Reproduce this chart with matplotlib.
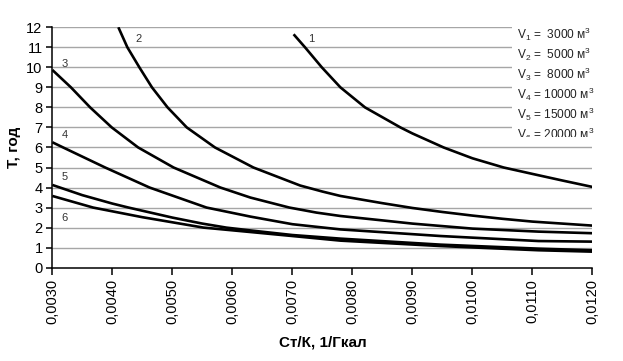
import matplotlib
matplotlib.use("Agg")
import matplotlib.pyplot as plt
from matplotlib.patches import Rectangle
from matplotlib.ticker import FuncFormatter

plt.rcParams["font.family"] = ["Liberation Sans", "DejaVu Sans"]

# curves: x = Ст/К, 1/Гкал ; T = payback, years
x1 = [0.00702, 0.00721, 0.00749, 0.0078, 0.00821, 0.0088, 0.0090, 0.00952,
      0.0100, 0.01052, 0.0110, 0.0115, 0.0120]
t1 = [11.65, 11.0, 10.0, 9.0, 8.0, 7.0, 6.7, 6.0, 5.46, 5.0, 4.68, 4.35, 4.03]

x2 = [0.0041, 0.00425, 0.00445, 0.00466, 0.00492, 0.00524, 0.00571, 0.00635,
      0.00713, 0.0075, 0.0078, 0.0085, 0.0090, 0.0095, 0.0100, 0.0105,
      0.0110, 0.0115, 0.0120]
t2 = [12.0, 11.0, 10.0, 9.0, 8.0, 7.0, 6.0, 5.0, 4.1, 3.8, 3.58, 3.22,
      2.98, 2.78, 2.6, 2.44, 2.3, 2.2, 2.1]

x3 = [0.0030, 0.00331, 0.00363, 0.00399, 0.00443, 0.00502, 0.0058, 0.0063,
      0.00695, 0.0074, 0.0078, 0.0085, 0.0090, 0.0100, 0.0111, 0.0120]
t3 = [9.87, 9.0, 8.0, 7.0, 6.0, 5.0, 4.0, 3.5, 3.0, 2.75, 2.58, 2.36, 2.2,
      1.95, 1.8, 1.72]

x4 = [0.0030, 0.00318, 0.00388, 0.00462, 0.00557, 0.0063, 0.0070, 0.0078,
      0.00947, 0.0111, 0.0120]
t4 = [6.26, 6.0, 5.0, 4.0, 3.0, 2.55, 2.17, 1.91, 1.58, 1.33, 1.30]

x5 = [0.0030, 0.0035, 0.0040, 0.00427, 0.0050, 0.0055, 0.0059, 0.0063,
      0.0070, 0.0078, 0.00947, 0.0111, 0.0120]
t5 = [4.13, 3.62, 3.2, 3.0, 2.5, 2.2, 2.0, 1.86, 1.63, 1.45, 1.15, 0.95, 0.87]

x6 = [0.0030, 0.00368, 0.0045, 0.00552, 0.0063, 0.0070, 0.0078, 0.00947,
      0.0111, 0.0120]
t6 = [3.58, 3.0, 2.52, 2.0, 1.78, 1.58, 1.35, 1.08, 0.87, 0.80]

curve_labels = ["1", "2", "3", "4", "5", "6"]
label_x = [0.00732, 0.00443, 0.0032, 0.00321, 0.0032, 0.0032]
label_y = [11.41, 11.41, 10.16, 6.62, 4.54, 2.47]

legend_lines = [
    "V$\\mathregular{_1}$ =  3000 м$\\mathregular{^3}$",
    "V$\\mathregular{_2}$ =  5000 м$\\mathregular{^3}$",
    "V$\\mathregular{_3}$ =  8000 м$\\mathregular{^3}$",
    "V$\\mathregular{_4}$ = 10000 м$\\mathregular{^3}$",
    "V$\\mathregular{_5}$ = 15000 м$\\mathregular{^3}$",
    "V$\\mathregular{_6}$ = 20000 м$\\mathregular{^3}$",
]

x_ticks = [0.003, 0.004, 0.005, 0.006, 0.007, 0.008, 0.009, 0.010, 0.011, 0.012]
y_ticks = list(range(0, 13))

fig = plt.figure(figsize=(6.23, 3.61), dpi=100)
ax = fig.add_axes([0.084, 0.2585, 0.867, 0.666])

for yv in y_ticks[1:]:
    ax.axhline(yv, color="#a6a6a6", lw=1.0, zorder=1)

for xs, ts in [(x1, t1), (x2, t2), (x3, t3), (x4, t4), (x5, t5), (x6, t6)]:
    ax.plot(xs, ts, color="black", lw=1.9, zorder=3,
            solid_joinstyle="round", solid_capstyle="butt")

for lab, lx, ly in zip(curve_labels, label_x, label_y):
    ax.text(lx, ly, lab, fontsize=8, color="#333333", ha="center", va="center", zorder=4)

# white box behind the volume list (hides the grid, cuts the last line)
box = Rectangle((0.010662, 6.52), 0.0025, 6.3, facecolor="white",
                edgecolor="none", zorder=2, clip_on=False, transform=ax.transData)
ax.add_patch(box)
for i, s in enumerate(legend_lines):
    t = ax.text(0.01074, 11.66 - i * 1.003, s, fontsize=8.6, color="#222222",
                ha="left", va="center", zorder=5)
    t.set_clip_on(True)
    t.set_clip_path(box)

ax.set_xlim(0.003, 0.012)
ax.set_ylim(0, 12)
ax.set_xticks(x_ticks)
ax.set_yticks(y_ticks)
ax.xaxis.set_major_formatter(FuncFormatter(lambda v, p: f"{v:.4f}".replace(".", ",")))
ax.tick_params(axis="x", rotation=90, labelsize=10.5, length=5, width=1.1, pad=3)
ax.tick_params(axis="y", labelsize=10.5, length=4, width=1.1, pad=3)

for side in ["top", "right"]:
    ax.spines[side].set_visible(False)
for side in ["left", "bottom"]:
    ax.spines[side].set_linewidth(1.1)
    ax.spines[side].set_color("black")

ax.set_xlabel("Ст/К, 1/Гкал", fontsize=11, fontweight="bold", labelpad=8)
ax.set_ylabel("T, год", fontsize=11, fontweight="bold", labelpad=4)

fig.savefig("out.png", dpi=100)
